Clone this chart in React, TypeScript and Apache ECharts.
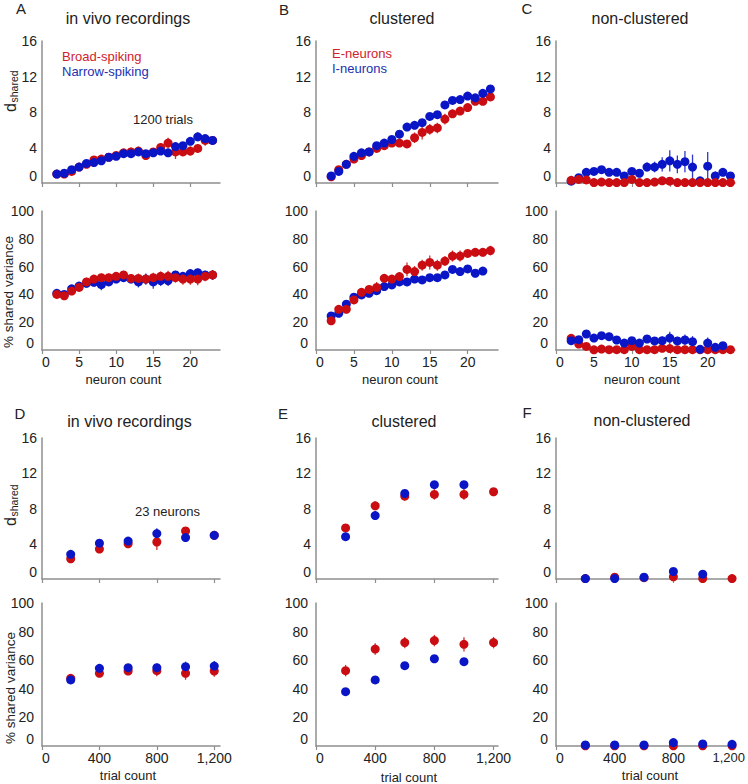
import React, { useEffect, useRef } from 'react';
import * as echarts from 'echarts';

const FONT = '"Liberation Sans", Arial, Helvetica, sans-serif';
const RED = '#c90d12';
const BLUE = '#0a16c6';
const RED_TEXT = '#d0222a';
const BLUE_TEXT = '#2230b0';
const AXIS = '#8e8e8e';
const TEXT = '#222222';

// x values
const neuronCount = [2, 3, 4, 5, 6, 7, 8, 9, 10, 11, 12, 13, 14, 15, 16, 17, 18, 19, 20, 21, 22, 23];
const trialCount = [200, 400, 600, 800, 1000, 1200];
const neuronTicks = [0, 5, 10, 15, 20];
const trialTicks = [0, 400, 800, 1200];

// A: in vivo recordings, neuron count
const aDsharedBroad = [1.0, 1.0, 1.3, 1.8, 2.1, 2.6, 2.7, 2.9, 3.1, 3.4, 3.5, 3.6, 3.1, 3.5, 4.0, 4.5, 3.5, 3.5, 3.6, 3.9, 4.8, 4.8];
const aDsharedBroadErr = [0.15, 0.15, 0.2, 0.2, 0.2, 0.25, 0.25, 0.25, 0.3, 0.3, 0.5, 0.5, 0.3, 0.4, 0.5, 0.6, 0.8, 0.4, 0.5, 0.5, 0.6, 0.4];
const aDsharedNarrow = [1.0, 1.1, 1.5, 1.8, 2.2, 2.3, 2.5, 2.9, 3.0, 3.3, 3.3, 3.5, 3.3, 3.4, 3.6, 3.4, 4.1, 4.2, 4.7, 5.2, 5.0, 4.8];
const aDsharedNarrowErr = [0.15, 0.15, 0.2, 0.2, 0.2, 0.25, 0.25, 0.25, 0.25, 0.3, 0.3, 0.3, 0.4, 0.3, 0.3, 0.3, 0.4, 0.4, 0.4, 0.5, 0.4, 0.4];
const aPctBroad = [40, 39, 42.4, 45, 49, 51, 52, 52, 53, 54, 51.5, 51.5, 51, 52, 53, 53, 52, 51, 51, 51, 53, 54];
const aPctBroadErr = [2, 2, 2.5, 2.5, 3, 3, 3, 3, 3, 3, 3, 3.5, 3.5, 3.5, 3.5, 4, 3.5, 4, 4, 4.5, 3.5, 3.5];
const aPctNarrow = [40.8, 40, 44, 46, 48, 48.7, 47, 49, 51, 52, 51, 49, 51, 49, 50, 50, 54, 53, 55, 55.6, 54, 54];
const aPctNarrowErr = [2, 2, 2.5, 2.5, 3, 3, 4, 3, 3, 3, 3, 4, 4, 5, 4, 4, 3, 3, 3, 3, 3, 3.5];

// B: clustered, neuron count
const bDsharedE = [0.7, 1.5, 2.1, 2.7, 3.1, 3.5, 3.9, 4.2, 4.5, 4.5, 4.4, 5.1, 5.7, 6.05, 6.2, 7.2, 7.8, 8.1, 8.5, 9.2, 9.2, 9.7];
const bDsharedEErr = [0.15, 0.2, 0.2, 0.2, 0.2, 0.2, 0.3, 0.3, 0.3, 0.3, 0.4, 0.6, 0.8, 0.6, 0.6, 0.6, 0.4, 0.3, 0.3, 0.3, 0.3, 0.3];
const bDsharedI = [0.8, 1.3, 2.1, 3.0, 3.4, 3.5, 4.2, 4.5, 4.9, 5.5, 6.3, 6.5, 6.8, 7.5, 7.7, 8.8, 9.3, 9.4, 9.8, 9.6, 10.1, 10.6];
const bDsharedIErr = [0.15, 0.15, 0.15, 0.2, 0.2, 0.2, 0.2, 0.2, 0.2, 0.2, 0.2, 0.2, 0.2, 0.2, 0.2, 0.2, 0.2, 0.2, 0.2, 0.2, 0.2, 0.2];
const bPctE = [21, 29.3, 29.3, 36, 41.5, 43.6, 45, 51.6, 51, 52.8, 58, 56.4, 61, 63, 61, 64, 67.6, 67.6, 69.5, 70.3, 70.3, 71.5];
const bPctEErr = [2, 3, 2.5, 2.5, 3, 3, 4, 3, 3, 3, 5, 4, 4, 5, 4, 3.5, 4, 4, 3, 3, 3, 3.5];
const bPctI = [24.5, 26.4, 33, 38, 39.6, 40.8, 42.7, 45.6, 46.8, 49, 49, 51, 50.4, 52, 52, 54, 58, 56.4, 58.3, 55.2, 56.8, null];
const bPctIErr = [1.5, 1.5, 1.5, 1.5, 1.5, 1.5, 1.5, 1.5, 1.5, 1.5, 1.5, 1.5, 1.5, 1.5, 1.5, 1.5, 2, 2, 2, 2, 2, null];

// C: non-clustered, neuron count
const cDsharedE = [0.3, 0.4, 0.35, 0.05, 0.1, 0.05, 0.05, 0.05, 0.4, 0.05, 0.05, 0.1, 0.25, 0.2, 0.05, 0.05, 0.05, 0.05, 0.05, 0.05, 0.05, 0.05];
const cDsharedEErr = [0.15, 0.15, 0.15, 0.1, 0.1, 0.1, 0.1, 0.1, 0.15, 0.1, 0.1, 0.1, 0.15, 0.1, 0.1, 0.1, 0.1, 0.1, 0.1, 0.1, 0.1, 0.1];
const cDsharedI = [0.2, 0.6, 1.2, 1.3, 1.5, 1.2, 1.2, 0.8, 1.3, 1.1, 1.8, 1.8, 2.1, 2.5, 2.1, 2.4, 1.8, 0.25, 1.9, 0.8, 1.2, 0.8];
const cDsharedIErr = [0.2, 0.3, 0.3, 0.3, 0.4, 0.3, 0.3, 0.3, 0.4, 0.4, 0.5, 0.6, 0.8, 1.2, 1.0, 1.2, 1.4, 0.3, 1.6, 0.5, 0.4, 0.4];
const cPctE = [8.4, 4.3, 2.6, 0.1, 0.7, 0.2, 0.2, 0.2, 2.6, 0.2, 0.2, 0.2, 1.2, 1.0, 0.2, 0.2, 0.2, 0.2, 0.2, 0.2, 0.2, 0.2];
const cPctEErr = [1, 1, 1, 0.5, 0.5, 0.5, 0.5, 0.5, 1, 0.5, 0.5, 0.5, 0.8, 0.8, 0.5, 0.5, 0.5, 0.5, 0.5, 0.5, 0.5, 0.5];
const cPctI = [6.7, 7.4, 11.5, 8.6, 10.3, 9.6, 7.2, 5, 6.7, 5, 7.9, 6.5, 6.7, 8.6, 6.5, 7.2, 6, 0.5, 5, 1.9, 3.1, null];
const cPctIErr = [2, 2, 2, 2.5, 2.5, 3, 2.5, 2, 2.5, 2, 2.5, 2.5, 3, 4.5, 3, 4, 4, 0.5, 4, 1.5, 1.5, null];

// D: in vivo recordings, trial count
const dDsharedBroad = [2.3, 3.4, 4.0, 4.2, 5.45, 4.96];
const dDsharedBroadErr = [0.3, 0.3, 0.4, 0.9, 0.3, 0.3];
const dDsharedNarrow = [2.8, 4.06, 4.3, 5.15, 4.7, 4.96];
const dDsharedNarrowErr = [0.3, 0.3, 0.3, 0.6, 0.4, 0.5];
const dPctBroad = [47.3, 50.8, 52.4, 52.7, 50.8, 52.4];
const dPctBroadErr = [2, 2, 2.5, 4, 4.5, 4];
const dPctNarrow = [46.2, 54.3, 54.8, 54.8, 55.5, 55.9];
const dPctNarrowErr = [2, 2, 2.5, 3, 3.5, 3.5];

// E: clustered, trial count
const eDsharedE = [5.8, 8.3, 9.4, 9.6, 9.6, 9.9];
const eDsharedEErr = [0.4, 0.5, 0.5, 0.6, 0.6, 0.4];
const eDsharedI = [4.8, 7.2, 9.7, 10.7, 10.7, null];
const eDsharedIErr = [0.3, 0.5, 0.5, 0.3, 0.3, null];
const ePctE = [52.7, 67.8, 72.3, 73.7, 71.1, 72.3];
const ePctEErr = [4, 4, 4, 4, 5, 4];
const ePctI = [38, 46.2, 56.2, 61, 59, null];
const ePctIErr = [1.5, 2, 1.5, 1.5, 1.5, null];

// F: non-clustered, trial count
const fDsharedE = [0.05, 0.2, 0.15, 0.25, 0.05, 0.05];
const fDsharedEErr = [0.1, 0.1, 0.1, 0.1, 0.1, 0.1];
const fDsharedI = [0.05, 0.05, 0.2, 0.85, 0.55, null];
const fDsharedIErr = [0.1, 0.1, 0.1, 0.3, 0.3, null];
const fPctE = [0.1, 0.1, 0.1, 0.1, 0.1, 0.1];
const fPctEErr = [0.3, 0.3, 0.3, 0.3, 0.3, 0.3];
const fPctI = [0.7, 0.7, 0.7, 2.4, 1.4, 1.2];
const fPctIErr = [0.3, 0.3, 0.3, 0.5, 0.5, 0.3];

type Panel = {
  left: number; top: number; width: number; height: number;
  xs: number[]; xMax: number; xTicks: number[]; xLabelValues?: number[]; showXLabels: boolean; trial: boolean;
  yMax: number; yInterval: number; yMargin: number;
  red: (number | null)[]; redErr: (number | null)[];
  blue: (number | null)[]; blueErr: (number | null)[];
  blueOnTop: boolean;
};

const COLS = [
  { left: 42, width: 178 },
  { left: 316, width: 182 },
  { left: 556, width: 179 },
];
const ROWS = [
  { top: 41, height: 142 },
  { top: 211, height: 139 },
  { top: 438, height: 141 },
  { top: 603, height: 143 },
];

function mk(col: number, row: number, o: Partial<Panel>): Panel {
  return { ...COLS[col], ...ROWS[row], ...o } as Panel;
}

const panels: Panel[] = [
  mk(0, 0, { xs: neuronCount, xMax: 24, xTicks: neuronTicks, showXLabels: false, trial: false, yMax: 16, yInterval: 4, yMargin: 5, red: aDsharedBroad, redErr: aDsharedBroadErr, blue: aDsharedNarrow, blueErr: aDsharedNarrowErr, blueOnTop: true }),
  mk(1, 0, { xs: neuronCount, xMax: 24, xTicks: neuronTicks, showXLabels: false, trial: false, yMax: 16, yInterval: 4, yMargin: 5, red: bDsharedE, redErr: bDsharedEErr, blue: bDsharedI, blueErr: bDsharedIErr, blueOnTop: true }),
  mk(2, 0, { xs: neuronCount, xMax: 23.6, xTicks: neuronTicks, showXLabels: false, trial: false, yMax: 16, yInterval: 4, yMargin: 5, red: cDsharedE, redErr: cDsharedEErr, blue: cDsharedI, blueErr: cDsharedIErr, blueOnTop: false }),
  mk(0, 1, { xs: neuronCount, xMax: 24, xTicks: neuronTicks, showXLabels: true, trial: false, yMax: 100, yInterval: 20, yMargin: 8, red: aPctBroad, redErr: aPctBroadErr, blue: aPctNarrow, blueErr: aPctNarrowErr, blueOnTop: false }),
  mk(1, 1, { xs: neuronCount, xMax: 24, xTicks: neuronTicks, showXLabels: true, trial: false, yMax: 100, yInterval: 20, yMargin: 8, red: bPctE, redErr: bPctEErr, blue: bPctI, blueErr: bPctIErr, blueOnTop: false }),
  mk(2, 1, { xs: neuronCount, xMax: 23.6, xTicks: neuronTicks, showXLabels: true, trial: false, yMax: 100, yInterval: 20, yMargin: 8, red: cPctE, redErr: cPctEErr, blue: cPctI, blueErr: cPctIErr, blueOnTop: true }),
  mk(0, 2, { xs: trialCount, xMax: 1240, xTicks: trialTicks, showXLabels: false, trial: true, yMax: 16, yInterval: 4, yMargin: 5, red: dDsharedBroad, redErr: dDsharedBroadErr, blue: dDsharedNarrow, blueErr: dDsharedNarrowErr, blueOnTop: true }),
  mk(1, 2, { xs: trialCount, xMax: 1230, xTicks: trialTicks, showXLabels: false, trial: true, yMax: 16, yInterval: 4, yMargin: 5, red: eDsharedE, redErr: eDsharedEErr, blue: eDsharedI, blueErr: eDsharedIErr, blueOnTop: true }),
  mk(2, 2, { xs: trialCount, xMax: 1220, xTicks: trialTicks, showXLabels: false, trial: true, yMax: 16, yInterval: 4, yMargin: 5, red: fDsharedE, redErr: fDsharedEErr, blue: fDsharedI, blueErr: fDsharedIErr, blueOnTop: true }),
  mk(0, 3, { xs: trialCount, xMax: 1240, xTicks: trialTicks, showXLabels: true, trial: true, yMax: 100, yInterval: 20, yMargin: 8, red: dPctBroad, redErr: dPctBroadErr, blue: dPctNarrow, blueErr: dPctNarrowErr, blueOnTop: true }),
  mk(1, 3, { xs: trialCount, xMax: 1230, xTicks: trialTicks, showXLabels: true, trial: true, yMax: 100, yInterval: 20, yMargin: 8, red: ePctE, redErr: ePctEErr, blue: ePctI, blueErr: ePctIErr, blueOnTop: true }),
  // the last tick label of this panel sits at the page edge; it is drawn as a graphic text below
  mk(2, 3, { xs: trialCount, xMax: 1220, xTicks: trialTicks, xLabelValues: [0, 400, 800], showXLabels: true, trial: true, yMax: 100, yInterval: 20, yMargin: 8, red: fPctE, redErr: fPctEErr, blue: fPctI, blueErr: fPctIErr, blueOnTop: true }),
];

function scatterSeries(i: number, xs: number[], ys: (number | null)[], color: string) {
  const data: number[][] = [];
  xs.forEach((x, k) => { if (ys[k] != null) data.push([x, ys[k] as number]); });
  return {
    type: 'scatter', xAxisIndex: i, yAxisIndex: i, symbol: 'circle', symbolSize: 9,
    itemStyle: { color, opacity: 1 }, data, silent: true,
  };
}

function errorSeries(i: number, xs: number[], ys: (number | null)[], es: (number | null)[], color: string) {
  const data: number[][] = [];
  xs.forEach((x, k) => { if (ys[k] != null && es[k] != null) data.push([x, ys[k] as number, es[k] as number]); });
  return {
    type: 'custom', xAxisIndex: i, yAxisIndex: i, silent: true,
    encode: { x: 0, y: 1 },
    data,
    renderItem: (_params: any, api: any) => {
      const x = api.value(0);
      const v = api.value(1);
      const e = api.value(2);
      const p1 = api.coord([x, v - e]);
      const p2 = api.coord([x, v + e]);
      return {
        type: 'line',
        shape: { x1: p1[0], y1: p1[1], x2: p2[0], y2: p2[1] },
        style: { stroke: color, lineWidth: 1.3, opacity: 0.85 },
      };
    },
  };
}

function text(x: number, y: number, t: string, size: number, fill: string, align = 'center', vAlign = 'middle') {
  return {
    type: 'text', x, y, silent: true,
    style: { text: t, fontSize: size, fontFamily: FONT, fill, align, verticalAlign: vAlign },
  };
}

function rotated(x: number, y: number, t: string, size: number) {
  return {
    type: 'text', x, y, rotation: Math.PI / 2, silent: true,
    style: { text: t, fontSize: size, fontFamily: FONT, fill: TEXT, align: 'center', verticalAlign: 'middle' },
  };
}

function dShared(x: number, y: number) {
  return {
    type: 'group', x, y, rotation: Math.PI / 2, silent: true,
    children: [
      { type: 'text', x: 0, y: 0, style: { text: 'd', fontSize: 16, fontFamily: FONT, fill: TEXT, align: 'left', verticalAlign: 'middle' } },
      { type: 'text', x: 9.5, y: 4, style: { text: 'shared', fontSize: 10.5, fontFamily: FONT, fill: TEXT, align: 'left', verticalAlign: 'middle' } },
    ],
  };
}

export default function App() {
  const ref = useRef<HTMLDivElement>(null);

  useEffect(() => {
    if (!ref.current) return;
    const chart = echarts.init(ref.current, null, { renderer: 'svg' });

    const grid = panels.map((p) => ({ left: p.left, top: p.top, width: p.width, height: p.height, containLabel: false }));

    const fmt = (trial: boolean) => (v: number) => (trial ? Number(v).toLocaleString('en-US') : String(v));

    const xAxis = panels.map((p, i) => ({
      type: 'value', gridIndex: i, min: 0, max: p.xMax, interval: p.trial ? 400 : 5,
      axisLine: { show: true, onZero: false, lineStyle: { color: AXIS, width: 1.5 } },
      axisTick: { show: true, length: 4, inside: false, lineStyle: { color: AXIS, width: 1.2 }, customValues: p.xTicks },
      axisLabel: {
        show: p.showXLabels, customValues: p.xLabelValues || p.xTicks, fontSize: 14, fontFamily: FONT, color: TEXT, margin: 5,
        alignMinLabel: 'left', showMaxLabel: true, showMinLabel: true, hideOverlap: false,
        formatter: fmt(p.trial),
      },
      splitLine: { show: false },
    }));

    const yAxis = panels.map((p, i) => ({
      type: 'value', gridIndex: i, min: 0, max: p.yMax, interval: p.yInterval,
      axisLine: { show: true, onZero: false, lineStyle: { color: AXIS, width: 1.5 } },
      axisTick: { show: false },
      axisLabel: { fontSize: 14, fontFamily: FONT, color: TEXT, margin: p.yMargin, verticalAlignMinLabel: 'bottom' },
      splitLine: { show: false },
    }));

    const series: any[] = [];
    panels.forEach((p, i) => {
      const redS = [errorSeries(i, p.xs, p.red, p.redErr, RED), scatterSeries(i, p.xs, p.red, RED)];
      const blueS = [errorSeries(i, p.xs, p.blue, p.blueErr, BLUE), scatterSeries(i, p.xs, p.blue, BLUE)];
      if (p.blueOnTop) series.push(...redS, ...blueS);
      else series.push(...blueS, ...redS);
    });

    const fPanel = panels[11];
    const fLastTick = trialTicks[trialTicks.length - 1];
    const fLabelY = fPanel.top + fPanel.height + 5;

    const graphic: any[] = [
      // panel letters
      text(21, 8, 'A', 15, TEXT), text(284, 9, 'B', 15, TEXT), text(527, 8, 'C', 15, TEXT),
      text(20, 413, 'D', 15, TEXT), text(283, 413, 'E', 15, TEXT), text(527, 412, 'F', 15, TEXT),
      // titles
      text(128, 18, 'in vivo recordings', 16, TEXT), text(402, 18, 'clustered', 16, TEXT), text(640, 18, 'non-clustered', 16, TEXT),
      text(129.5, 421, 'in vivo recordings', 16, TEXT), text(404, 421, 'clustered', 16, TEXT), text(642, 420, 'non-clustered', 16, TEXT),
      // legends
      text(62, 56, 'Broad-spiking', 13, RED_TEXT, 'left'), text(62, 71, 'Narrow-spiking', 13, BLUE_TEXT, 'left'),
      text(332, 53, 'E-neurons', 13, RED_TEXT, 'left'), text(332, 68, 'I-neurons', 13, BLUE_TEXT, 'left'),
      // annotations
      text(133, 119, '1200 trials', 13, TEXT, 'left'), text(135, 511, '23 neurons', 13, TEXT, 'left'),
      // x axis names
      text(123.5, 379, 'neuron count', 13, TEXT), text(400, 379, 'neuron count', 13, TEXT), text(642, 379, 'neuron count', 13, TEXT),
      text(128, 775, 'trial count', 13, TEXT), text(409, 777, 'trial count', 13, TEXT), text(650, 775, 'trial count', 13, TEXT),
      // last tick label of panel F (bottom), kept inside the page edge
      text(745, fLabelY, fmt(true)(fLastTick), 13, TEXT, 'right', 'top'),
      // y axis names
      dShared(10, 112), dShared(10, 526),
      rotated(8.5, 292, '% shared variance', 13.5), rotated(10, 688, '% shared variance', 13.5),
    ];

    chart.setOption({
      animation: false,
      backgroundColor: '#ffffff',
      textStyle: { fontFamily: FONT },
      grid, xAxis, yAxis, series, graphic,
    });

    return () => chart.dispose();
  }, []);

  return <div ref={ref} style={{ position: 'fixed', left: 0, top: 0, width: 748, height: 784 }} />;
}
